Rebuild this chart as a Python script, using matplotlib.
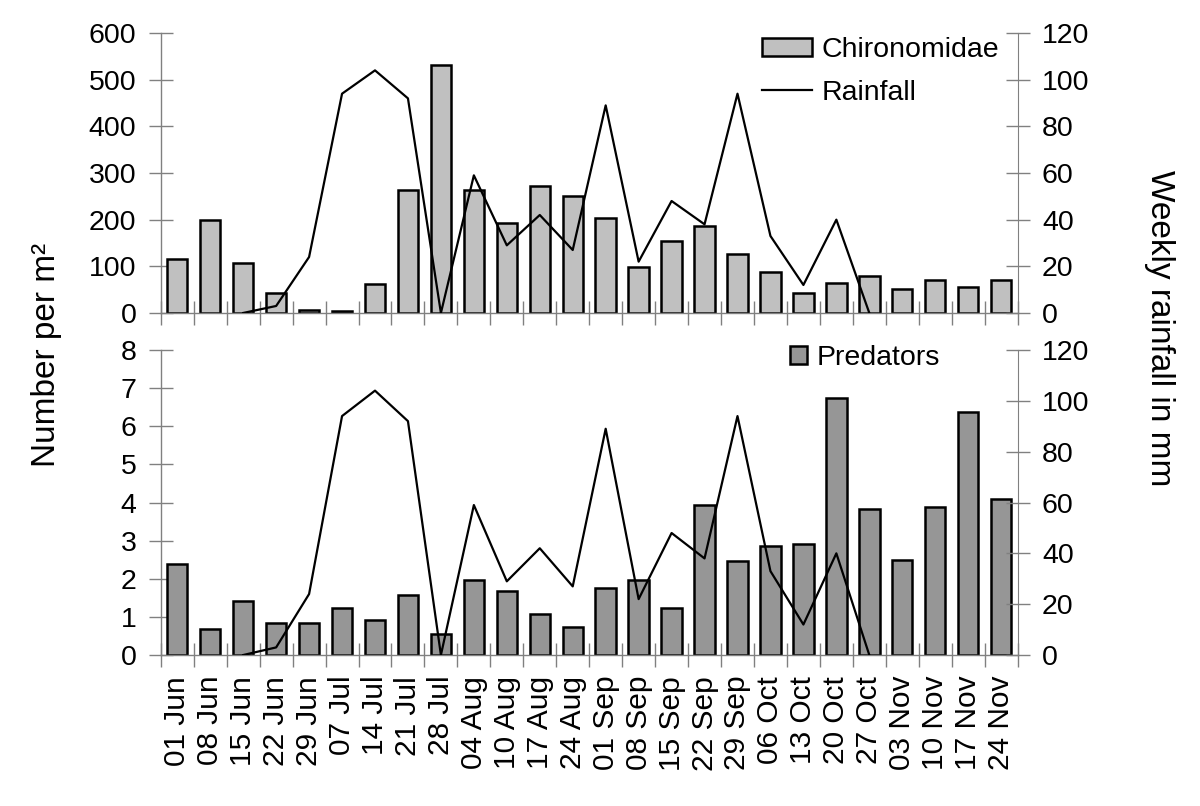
import matplotlib
matplotlib.use("Agg")
import matplotlib.pyplot as plt
import numpy as np
from matplotlib.patches import Patch
from matplotlib.lines import Line2D

plt.rcParams['font.family'] = ['Liberation Sans', 'DejaVu Sans']

dates = ["01 Jun", "08 Jun", "15 Jun", "22 Jun", "29 Jun", "07 Jul", "14 Jul", "21 Jul",
         "28 Jul", "04 Aug", "10 Aug", "17 Aug", "24 Aug", "01 Sep", "08 Sep", "15 Sep",
         "22 Sep", "29 Sep", "06 Oct", "13 Oct", "20 Oct", "27 Oct", "03 Nov", "10 Nov",
         "17 Nov", "24 Nov"]

chironomidae = [116, 200, 108, 43, 7, 4, 63, 263, 532, 263, 192, 272, 251, 204, 99, 155,
                187, 126, 87, 43, 64, 79, 52, 71, 55, 71]

predators = [2.40, 0.68, 1.42, 0.84, 0.84, 1.24, 0.93, 1.58, 0.54, 1.96, 1.67, 1.08, 0.74,
             1.77, 1.97, 1.24, 3.93, 2.46, 2.85, 2.90, 6.73, 3.83, 2.50, 3.88, 6.38, 4.08]

rainfall = [np.nan, np.nan, 0, 3, 24, 94, 104, 92, 0, 59, 29, 42, 27, 89, 22, 48, 38, 94,
            33, 12, 40, 0, np.nan, np.nan, np.nan, np.nan]

FS = 20.5
XFS = 21.5
LFS = 24
GRAY = '#808080'
x = np.arange(len(dates))

fig = plt.figure(figsize=(12, 8.06), dpi=100)
ax1 = fig.add_axes([0.134, 0.6117, 0.714, 0.3473])
ax2 = fig.add_axes([0.134, 0.1873, 0.714, 0.3785])


def style(ax, ylim, yticks, show_labels):
    ax.set_xlim(-0.5, len(dates) - 0.5)
    ax.set_ylim(*ylim)
    ax.set_yticks(yticks)
    for s in ['top', 'right']:
        ax.spines[s].set_visible(False)
    for s in ['left', 'bottom']:
        ax.spines[s].set_color(GRAY)
        ax.spines[s].set_linewidth(1.0)
    ax.tick_params(axis='y', direction='inout', length=17, width=1, color=GRAY,
                   labelsize=FS, pad=9)
    ax.set_xticks(x)
    ax.set_xticks(np.arange(-0.5, len(dates)), minor=True)
    ax.tick_params(axis='x', which='major', length=0, labelsize=XFS, pad=15)
    ax.tick_params(axis='x', which='minor', direction='inout', length=17, width=1,
                   color=GRAY)
    if show_labels:
        ax.set_xticklabels(dates, rotation=90)
    else:
        ax.set_xticklabels([])


def style_right(axr):
    axr.set_ylim(0, 120)
    axr.set_yticks(np.arange(0, 121, 20))
    for s in ['top', 'left', 'bottom']:
        axr.spines[s].set_visible(False)
    axr.spines['right'].set_color(GRAY)
    axr.tick_params(axis='y', direction='inout', length=17, width=1, color=GRAY,
                    labelsize=FS, pad=9)


# Top panel
ax1.bar(x, chironomidae, width=0.62, color='#C0C0C0', edgecolor='black', linewidth=1.8,
        zorder=2)
style(ax1, (0, 600), np.arange(0, 601, 100), False)
ax1r = ax1.twinx()
ax1r.plot(x, rainfall, color='black', linewidth=1.6)
style_right(ax1r)
h1 = [Patch(facecolor='#C0C0C0', edgecolor='black', linewidth=1.8),
      Line2D([0], [0], color='black', linewidth=1.6)]
ax1r.legend(h1, ['Chironomidae', 'Rainfall'], loc='upper left', frameon=False,
            fontsize=FS, handlelength=1.75, handleheight=0.6, handletextpad=0.35,
            labelspacing=0.58, borderpad=0, borderaxespad=0,
            bbox_to_anchor=(762 / 1200, 1 - 37 / 806), bbox_transform=fig.transFigure)

# Bottom panel
ax2.bar(x, predators, width=0.62, color='#969696', edgecolor='black', linewidth=1.8,
        zorder=2)
style(ax2, (0, 8), np.arange(0, 9, 1), True)
ax2r = ax2.twinx()
ax2r.plot(x, rainfall, color='black', linewidth=1.6)
style_right(ax2r)
h2 = [Patch(facecolor='#969696', edgecolor='black', linewidth=1.8)]
ax2r.legend(h2, ['Predators'], loc='upper left', frameon=False, fontsize=FS,
            handlelength=0.6, handleheight=0.6, handletextpad=0.35,
            borderpad=0, borderaxespad=0,
            bbox_to_anchor=(790 / 1200, 1 - 345 / 806), bbox_transform=fig.transFigure)

fig.text(47 / 1200, 1 - 355 / 806, 'Number per m²', rotation=90, va='center',
         ha='center', fontsize=LFS)
fig.text(1160 / 1200, 1 - 328 / 806, 'Weekly rainfall in mm', rotation=270,
         va='center', ha='center', fontsize=LFS)

fig.savefig('out.png', dpi=100)
